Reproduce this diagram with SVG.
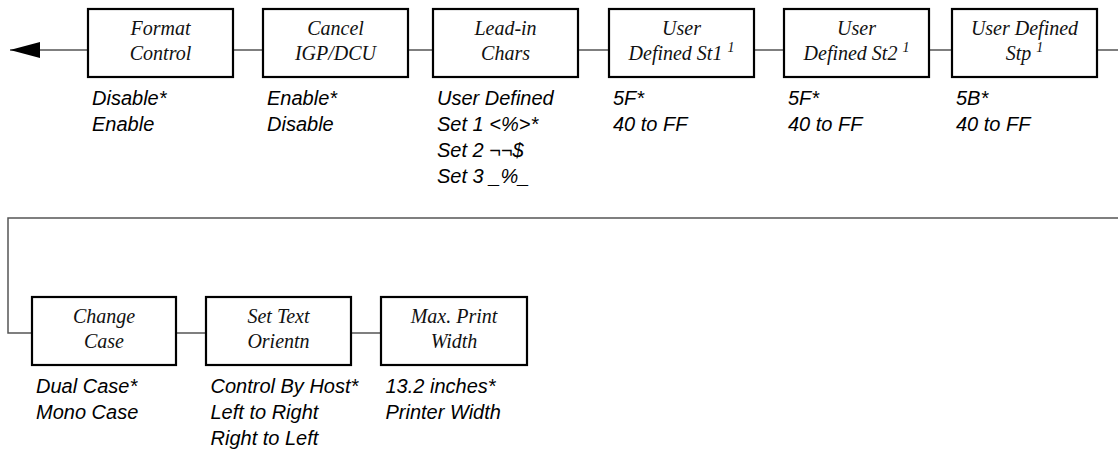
<svg xmlns="http://www.w3.org/2000/svg" width="1118" height="451" viewBox="0 0 1118 451">
<style>
.box{fill:#fff;stroke:#000;stroke-width:2.2}
.lbl{font-family:"Liberation Serif",serif;font-style:italic;font-size:20px;text-anchor:middle;fill:#111}
.sup{font-size:14px}
.opt{font-family:"Liberation Sans",sans-serif;font-style:italic;font-size:20px;fill:#000}
.conn{stroke:#555;stroke-width:1.5;fill:none}
</style>
<defs>
<marker id="arr" markerUnits="userSpaceOnUse" markerWidth="30" markerHeight="16" refX="30" refY="8" orient="auto">
<path d="M0,0 L30,8 L0,16 z" fill="#000"/>
</marker>
</defs>
<g id="connectors">
<line class="conn" x1="88" y1="50" x2="10" y2="50" marker-end="url(#arr)"/>
<line class="conn" x1="233" y1="50" x2="263" y2="50"/>
<line class="conn" x1="408" y1="50" x2="433" y2="50"/>
<line class="conn" x1="578" y1="50" x2="609" y2="50"/>
<line class="conn" x1="754" y1="50" x2="784" y2="50"/>
<line class="conn" x1="929" y1="50" x2="952" y2="50"/>
<line class="conn" x1="1097" y1="50" x2="1118" y2="50"/>
<path class="conn" d="M1118,218 H8 V333 H32"/>
<line class="conn" x1="176" y1="333" x2="206" y2="333"/>
<line class="conn" x1="351" y1="333" x2="381" y2="333"/>
</g>
<g id="format-control">
<rect class="box" x="88" y="9" width="145" height="68"/>
<text class="lbl" x="160.5" y="34.5">Format</text>
<text class="lbl" x="160.5" y="59.5">Control</text>
<text class="opt" x="92" y="105">Disable*</text>
<text class="opt" x="92" y="131">Enable</text>
</g>
<g id="cancel-igp">
<rect class="box" x="263" y="9" width="145" height="68"/>
<text class="lbl" x="335.5" y="34.5">Cancel</text>
<text class="lbl" x="335.5" y="59.5">IGP/DCU</text>
<text class="opt" x="267" y="105">Enable*</text>
<text class="opt" x="267" y="131">Disable</text>
</g>
<g id="lead-in-chars">
<rect class="box" x="433" y="9" width="145" height="68"/>
<text class="lbl" x="505.5" y="34.5">Lead-in</text>
<text class="lbl" x="505.5" y="59.5">Chars</text>
<text class="opt" x="437" y="105">User Defined</text>
<text class="opt" x="437" y="131">Set 1 &lt;%&gt;*</text>
<text class="opt" x="437" y="157">Set 2 ¬¬$</text>
<text class="opt" x="437" y="183">Set 3 _%_</text>
</g>
<g id="user-defined-st1">
<rect class="box" x="609" y="9" width="145" height="68"/>
<text class="lbl" x="681.5" y="34.5">User</text>
<text class="lbl" x="681.5" y="59.5">Defined St1 <tspan class="sup" dy="-8">1</tspan></text>
<text class="opt" x="613" y="105">5F*</text>
<text class="opt" x="613" y="131">40 to FF</text>
</g>
<g id="user-defined-st2">
<rect class="box" x="784" y="9" width="145" height="68"/>
<text class="lbl" x="856.5" y="34.5">User</text>
<text class="lbl" x="856.5" y="59.5">Defined St2 <tspan class="sup" dy="-8">1</tspan></text>
<text class="opt" x="788" y="105">5F*</text>
<text class="opt" x="788" y="131">40 to FF</text>
</g>
<g id="user-defined-stp">
<rect class="box" x="952" y="9" width="145" height="68"/>
<text class="lbl" x="1024.5" y="34.5">User Defined</text>
<text class="lbl" x="1024.5" y="59.5">Stp <tspan class="sup" dy="-8">1</tspan></text>
<text class="opt" x="956" y="105">5B*</text>
<text class="opt" x="956" y="131">40 to FF</text>
</g>
<g id="change-case">
<rect class="box" x="32" y="297" width="144" height="68"/>
<text class="lbl" x="104" y="322.5">Change</text>
<text class="lbl" x="104" y="347.5">Case</text>
<text class="opt" x="36" y="393">Dual Case*</text>
<text class="opt" x="36" y="419">Mono Case</text>
</g>
<g id="set-text-orientn">
<rect class="box" x="206" y="297" width="145" height="68"/>
<text class="lbl" x="278.5" y="322.5">Set Text</text>
<text class="lbl" x="278.5" y="347.5">Orientn</text>
<text class="opt" x="210.5" y="393">Control By Host*</text>
<text class="opt" x="210.5" y="419">Left to Right</text>
<text class="opt" x="210.5" y="445">Right to Left</text>
</g>
<g id="max-print-width">
<rect class="box" x="381" y="297" width="146" height="68"/>
<text class="lbl" x="454" y="322.5">Max. Print</text>
<text class="lbl" x="454" y="347.5">Width</text>
<text class="opt" x="385.5" y="393">13.2 inches*</text>
<text class="opt" x="385.5" y="419">Printer Width</text>
</g>
</svg>
